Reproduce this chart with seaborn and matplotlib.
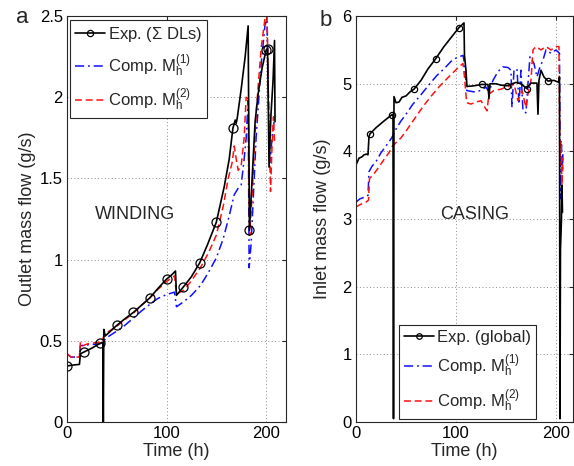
import numpy as np
import seaborn as sns
import matplotlib
matplotlib.use("Agg")
import matplotlib.pyplot as plt
from matplotlib.lines import Line2D

# ---- panel a: winding outlet mass flow (g/s) ----
wind_exp_t = [0, 5, 12.5, 13.5, 16.7, 25, 33.3, 36, 36.5, 37, 38.5, 42, 50, 58, 66.7, 75, 83.3, 91,
              100, 105, 109, 110, 116.7, 125, 133.3, 141, 150, 158, 163, 166.7, 169, 170, 171, 175,
              179, 182, 183.3, 186, 189, 192, 196, 200, 201.5, 203, 205, 207, 208.5, 209]
wind_exp_v = [0.345, 0.35, 0.355, 0.42, 0.43, 0.455, 0.485, 0.49, 0.0, 0.57, 0.53, 0.55, 0.595, 0.635,
              0.675, 0.72, 0.765, 0.82, 0.88, 0.905, 0.93, 0.78, 0.83, 0.895, 0.98, 1.09, 1.23, 1.45,
              1.62, 1.81, 1.86, 1.84, 1.87, 2.05, 2.25, 2.44, 1.18, 1.5, 1.85, 2.02, 2.18, 2.29, 2.30,
              1.57, 1.9, 2.1, 2.35, 1.85]
wind_exp_marks = [0, 16.7, 33.3, 50, 66.7, 83.3, 100, 116.7, 133.3, 150, 166.7, 183.3, 200, 201.5]

wind_m1_t = [0, 4, 12.5, 13.5, 20, 30, 35, 37, 40, 50, 58, 66.7, 75, 83.3, 91, 100, 108, 110, 117,
             125, 134, 142, 150, 157, 163, 168, 172, 175, 178, 180, 182, 183, 185, 190, 195, 199,
             201, 202.5, 204, 206, 208]
wind_m1_v = [0.42, 0.40, 0.40, 0.47, 0.475, 0.48, 0.485, 0.50, 0.52, 0.56, 0.595, 0.64, 0.685, 0.725,
             0.76, 0.785, 0.80, 0.71, 0.74, 0.78, 0.84, 0.92, 1.01, 1.13, 1.27, 1.40, 1.44, 1.46,
             1.62, 1.75, 1.98, 0.95, 1.1, 1.75, 2.2, 2.45, 2.48, 1.95, 1.6, 1.75, 1.85]

wind_m2_t = [0, 4, 12.5, 13.5, 16, 20, 30, 35, 37, 40, 50, 58, 66.7, 75, 83.3, 91, 100, 108, 110,
             117, 125, 134, 142, 150, 157, 162, 166, 168, 170, 172, 175, 178, 180, 182, 183.5, 186,
             190, 195, 199, 201, 203, 204.5, 206, 207.5, 208.5]
wind_m2_v = [0.42, 0.40, 0.40, 0.49, 0.47, 0.48, 0.49, 0.49, 0.53, 0.55, 0.59, 0.63, 0.67, 0.72,
             0.765, 0.815, 0.865, 0.90, 0.79, 0.81, 0.87, 0.95, 1.04, 1.15, 1.33, 1.50, 1.60, 1.70,
             1.62, 1.55, 1.58, 1.75, 2.0, 1.99, 1.15, 1.4, 1.9, 2.3, 2.49, 2.5, 1.8, 1.42, 1.7,
             1.88, 1.72]

# ---- panel b: casing inlet mass flow (g/s) ----
case_exp_t = [0, 3, 6, 8, 10.5, 12, 13, 14, 20, 28, 35.7, 37, 37.5, 38, 40, 43, 46, 50, 54, 58, 65,
              72, 79.7, 88, 96, 103, 108, 108.5, 110, 111, 118, 125.7, 132, 133, 134, 140, 145,
              150.7, 160, 165, 170.7, 175, 181, 182, 183, 185, 188, 192, 198, 203, 203.5, 204,
              204.5, 205.5, 206, 206.5]
case_exp_v = [3.80, 3.9, 3.92, 3.95, 3.96, 3.95, 4.22, 4.26, 4.35, 4.45, 4.54, 4.55, 0.05, 4.81,
              4.72, 4.73, 4.80, 4.82, 4.88, 4.92, 5.05, 5.22, 5.37, 5.55, 5.70, 5.83, 5.90, 5.42,
              5.2, 4.96, 4.97, 4.99, 4.99, 4.78, 5.0, 5.0, 4.98, 4.97, 5.02, 5.0, 4.93, 5.01, 5.01,
              4.55, 5.05, 5.2, 5.1, 5.04, 5.05, 5.02, 5.1, 0.05, 2.55, 3.0, 3.5, 3.1]
case_exp_marks = [14, 35.7, 58, 79.7, 103, 125.7, 150.7, 170.7, 192]

case_m1_t = [0, 4, 8, 12, 13, 16, 20, 25, 30, 35.7, 40, 45, 50, 57, 64, 70, 75, 80.7, 88, 95, 100,
             107, 108.5, 110.7, 118, 125, 130, 133, 137, 142, 147, 152, 155, 156, 158, 161, 163,
             165, 167, 170, 172, 174, 178, 181, 184, 187, 190, 195, 200, 203.5, 204.5, 205.5,
             206.5, 207]
case_m1_v = [3.25, 3.30, 3.32, 3.35, 3.70, 3.78, 3.85, 3.98, 4.08, 4.2, 4.33, 4.45, 4.55, 4.7, 4.82,
             4.93, 5.02, 5.12, 5.22, 5.33, 5.38, 5.42, 5.3, 4.9, 4.88, 4.9, 4.95, 4.88, 5.05, 5.18,
             5.25, 5.24, 5.2, 4.65, 5.2, 5.22, 4.7, 5.2, 4.6, 4.57, 5.0, 5.4, 5.3, 5.1, 5.25, 5.35,
             5.5, 5.45, 5.5, 5.45, 3.3, 4.1, 3.7, 4.0]

case_m2_t = [0, 5, 10, 12.5, 13.5, 17, 22, 28, 33, 36, 40, 45, 50, 57, 64, 70, 77, 84, 90, 96, 103,
             107, 108.5, 110.7, 115, 120, 125, 129, 131, 133, 138, 145, 150, 155, 158, 162, 166,
             170, 172, 175, 177, 180, 185, 190, 195, 200, 203, 204, 205, 206, 207]
case_m2_v = [3.18, 3.22, 3.25, 3.28, 3.60, 3.65, 3.75, 3.88, 3.98, 4.07, 4.13, 4.2, 4.3, 4.45, 4.6,
             4.72, 4.85, 4.97, 5.06, 5.15, 5.25, 5.3, 5.1, 4.72, 4.7, 4.73, 4.75, 4.65, 4.6, 4.85,
             4.9, 4.92, 4.95, 4.97, 5.0, 4.75, 4.9, 4.65, 4.85, 5.05, 5.5, 5.55, 5.5, 5.55, 5.5,
             5.55, 5.55, 3.8, 4.15, 3.5, 3.9]

sns.set_style("white")
plt.rcParams["font.family"] = ["Liberation Sans", "DejaVu Sans"]
plt.rcParams["mathtext.fontset"] = "custom"
plt.rcParams["mathtext.rm"] = "Liberation Sans"
plt.rcParams["mathtext.it"] = "Liberation Sans"

fig = plt.figure(figsize=(5.74, 4.66), dpi=100)
ax_a = fig.add_axes([0.1167, 0.0944, 0.3815, 0.871])
ax_b = fig.add_axes([0.6202, 0.0944, 0.378, 0.871])

lab1 = r"Comp. $\mathrm{M_h^{(1)}}$"
lab2 = r"Comp. $\mathrm{M_h^{(2)}}$"
dashdot = (0, (6, 2.5, 1.2, 2.5))
dashed = (0, (4.5, 2.5))


def draw_panel(ax, m1_t, m1_v, m2_t, m2_v, ex_t, ex_v, marks, msize):
    sns.lineplot(x=m1_t, y=m1_v, ax=ax, sort=False, estimator=None, color="#1010ff",
                 linestyle=dashdot, linewidth=1.1)
    sns.lineplot(x=m2_t, y=m2_v, ax=ax, sort=False, estimator=None, color="#ff1010",
                 linestyle=dashed, linewidth=1.1)
    idx = [int(i) for i in np.nonzero(np.isin(ex_t, marks))[0]]
    sns.lineplot(x=ex_t, y=ex_v, ax=ax, sort=False, estimator=None, color="black",
                 linewidth=1.2, marker="o", markersize=msize, markerfacecolor="none",
                 markeredgecolor="black", markeredgewidth=0.9, markevery=idx)
    ax.grid(True, linestyle=(0, (1, 2.5)), color="0.55", linewidth=0.7)
    for s in ax.spines.values():
        s.set_visible(True)
        s.set_color("0.15")
        s.set_linewidth(0.8)
    ax.tick_params(direction="in", length=3, labelsize=12, top=True, right=True,
                   colors="0.15", labelcolor="black", pad=3)
    ax.set_xlabel("Time (h)", fontsize=13, labelpad=1)


draw_panel(ax_a, wind_m1_t, wind_m1_v, wind_m2_t, wind_m2_v,
           wind_exp_t, wind_exp_v, wind_exp_marks, 6.5)
ax_a.set_xlim(0, 220)
ax_a.set_ylim(0, 2.5)
ax_a.set_xticks([0, 100, 200])
ax_a.set_yticks([0, 0.5, 1, 1.5, 2, 2.5])
ax_a.set_yticklabels(["0", "0.5", "1", "1.5", "2", "2.5"])
ax_a.set_ylabel("Outlet mass flow (g/s)", fontsize=13, labelpad=3)
ax_a.text(68, 1.28, "WINDING", fontsize=13, ha="center", va="center")

draw_panel(ax_b, case_m1_t, case_m1_v, case_m2_t, case_m2_v,
           case_exp_t, case_exp_v, case_exp_marks, 4.5)
ax_b.set_xlim(0, 217)
ax_b.set_ylim(0, 6)
ax_b.set_xticks([0, 100, 200])
ax_b.set_yticks([0, 1, 2, 3, 4, 5, 6])
ax_b.set_ylabel("Inlet mass flow (g/s)", fontsize=13, labelpad=8)
ax_b.text(119, 3.07, "CASING", fontsize=13, ha="center", va="center")


def legend_handles(exp_label, msize):
    return [Line2D([], [], color="black", linewidth=1.2, marker="o", markersize=msize,
                   markerfacecolor="none", markeredgewidth=0.9, label=exp_label),
            Line2D([], [], color="#1010ff", linestyle=dashdot, linewidth=1.1, label=lab1),
            Line2D([], [], color="#ff1010", linestyle=dashed, linewidth=1.1, label=lab2)]


leg_kw = dict(fontsize=12, frameon=True, fancybox=False, edgecolor="0.15", framealpha=1,
              handlelength=1.8, handletextpad=0.15, borderpad=0.3, labelspacing=0.5,
              borderaxespad=0)
lg = ax_a.legend(handles=legend_handles(r"Exp. ($\Sigma$ DLs)", 4.5), loc="upper left",
                 bbox_to_anchor=(0.015, 0.99), **leg_kw)
lg.get_frame().set_linewidth(0.8)
lg = ax_b.legend(handles=legend_handles("Exp. (global)", 4.0), loc="lower left",
                 bbox_to_anchor=(0.2, 0.008), **leg_kw)
lg.get_frame().set_linewidth(0.8)

fig.text(0.038, 0.962, "a", fontsize=16, ha="center", va="center")
fig.text(0.568, 0.955, "b", fontsize=16, ha="center", va="center")

fig.savefig("out.png", dpi=100)
